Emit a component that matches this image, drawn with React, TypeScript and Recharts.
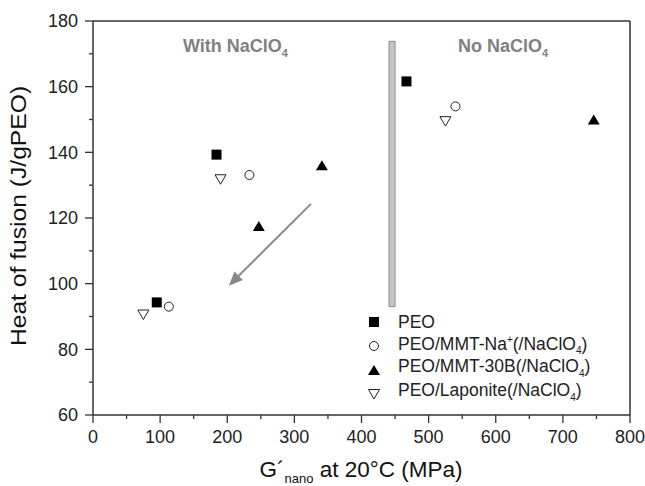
import { ScatterChart, Scatter, XAxis, YAxis, ReferenceLine, ReferenceArea, Legend } from 'recharts';

// values: G'nano (MPa) vs heat of fusion (J/gPEO)
const peo = [
  { x: 95, y: 94.3 },
  { x: 184, y: 139.3 },
  { x: 467, y: 161.6 },
];
const mmtNa = [
  { x: 113, y: 93.0 },
  { x: 233, y: 133.1 },
  { x: 540, y: 154.0 },
];
const mmt30B = [
  { x: 247, y: 117.6 },
  { x: 341, y: 136.1 },
  { x: 746, y: 150.0 },
];
const laponite = [
  { x: 75, y: 90.6 },
  { x: 190, y: 131.8 },
  { x: 525, y: 149.5 },
];

const xTicks = [0, 50, 100, 150, 200, 250, 300, 350, 400, 450, 500, 550, 600, 650, 700, 750, 800];
const yTicks = [60, 70, 80, 90, 100, 110, 120, 130, 140, 150, 160, 170, 180];

// separator bar and trend arrow
const dividerX = [441, 450];
const dividerY = [93, 173.8];
const arrowPoints = [
  { x: 324.7, y: 124.3 },
  { x: 202.3, y: 99.4 },
];

const FONT = '"Liberation Sans", Arial, Helvetica, sans-serif';
const AXIS = '#333';

const Square = ({ cx, cy }: any) => <rect x={cx - 5} y={cy - 5} width={10} height={10} fill="#000" />;
const Circle = ({ cx, cy }: any) => <circle cx={cx} cy={cy} r={4.5} fill="#fff" stroke="#222" strokeWidth={1} />;
const TriUp = ({ cx, cy }: any) => (
  <polygon points={`${cx - 6},${cy + 5} ${cx + 6},${cy + 5} ${cx},${cy - 5}`} fill="#000" />
);
const TriDown = ({ cx, cy }: any) => (
  <polygon points={`${cx - 5.5},${cy - 4.5} ${cx + 5.5},${cy - 4.5} ${cx},${cy + 5}`} fill="#fff" stroke="#222" strokeWidth={1} />
);

const XTick = ({ x, y, payload }: any) => {
  const major = payload.value % 100 === 0;
  return (
    <g>
      <line x1={x} x2={x} y1={y} y2={y + (major ? 8 : 4)} stroke={AXIS} strokeWidth={1.3} />
      {major && (
        <text x={x} y={y + 28} textAnchor="middle" fontSize={18} fill="#222" fontFamily={FONT}>
          {payload.value}
        </text>
      )}
    </g>
  );
};

const YTick = ({ x, y, payload }: any) => {
  const major = payload.value % 20 === 0;
  return (
    <g>
      <line x1={x - (major ? 8 : 4)} x2={x} y1={y} y2={y} stroke={AXIS} strokeWidth={1.3} />
      {major && (
        <text x={x - 15} y={y} dy="0.36em" textAnchor="end" fontSize={18} fill="#222" fontFamily={FONT}>
          {payload.value}
        </text>
      )}
    </g>
  );
};

const Arrow = (props: any) => {
  const { x1, y1, x2, y2 } = props;
  const ang = Math.atan2(y2 - y1, x2 - x1);
  const len = 14;
  const w = 6;
  const bx = x2 - len * Math.cos(ang);
  const by = y2 - len * Math.sin(ang);
  const px = -Math.sin(ang) * w;
  const py = Math.cos(ang) * w;
  return (
    <g>
      <line x1={x1} y1={y1} x2={bx} y2={by} stroke="#888" strokeWidth={2} />
      <polygon points={`${x2},${y2} ${bx + px},${by + py} ${bx - px},${by - py}`} fill="#888" />
    </g>
  );
};

const legendItems = [
  { key: 'peo', icon: Square, label: <>PEO</> },
  { key: 'na', icon: Circle, label: <>PEO/MMT-Na<sup style={{ fontSize: 10 }}>+</sup>(/NaClO<sub style={{ fontSize: 10 }}>4</sub>)</> },
  { key: '30b', icon: TriUp, label: <>PEO/MMT-30B(/NaClO<sub style={{ fontSize: 10 }}>4</sub>)</> },
  { key: 'lap', icon: TriDown, label: <>PEO/Laponite(/NaClO<sub style={{ fontSize: 10 }}>4</sub>)</> },
];

const LegendBox = () => (
  <div style={{ fontFamily: FONT, fontSize: 17.5, color: '#222' }}>
    {legendItems.map(({ key, icon: Icon, label }) => (
      <div key={key} style={{ display: 'flex', alignItems: 'center', height: 24 }}>
        <svg width={14} height={14} style={{ marginRight: 17 }}>
          <Icon cx={7} cy={7} />
        </svg>
        <span style={{ lineHeight: '24px', whiteSpace: 'nowrap' }}>{label}</span>
      </div>
    ))}
  </div>
);

const overlayText = { position: 'absolute' as const, fontFamily: FONT, whiteSpace: 'nowrap' as const };

export default function App() {
  return (
    <div style={{ position: 'absolute', left: 0, top: 0, width: 645, height: 486, background: '#fff' }}>
      <ScatterChart width={645} height={486} margin={{ top: 21, right: 15, bottom: 0, left: 0 }}>
        <XAxis
          type="number"
          dataKey="x"
          domain={[0, 800]}
          ticks={xTicks}
          interval={0}
          tick={<XTick />}
          tickLine={false}
          tickSize={0}
          tickMargin={0}
          height={71}
          axisLine={{ stroke: AXIS, strokeWidth: 1.5 }}
        />
        <YAxis
          type="number"
          dataKey="y"
          domain={[60, 180]}
          ticks={yTicks}
          interval={0}
          tick={<YTick />}
          tickLine={false}
          tickSize={0}
          tickMargin={0}
          width={93}
          axisLine={{ stroke: AXIS, strokeWidth: 1.5 }}
        />
        <ReferenceLine y={180} stroke={AXIS} strokeWidth={1.5} />
        <ReferenceLine x={800} stroke={AXIS} strokeWidth={1.5} />
        <ReferenceArea
          x1={dividerX[0]}
          x2={dividerX[1]}
          y1={dividerY[0]}
          y2={dividerY[1]}
          fill="#c4c4c4"
          fillOpacity={1}
          stroke="#8a8a8a"
          strokeWidth={1}
        />
        <ReferenceLine segment={arrowPoints} shape={<Arrow />} />
        <Scatter name="PEO" data={peo} shape={<Square />} isAnimationActive={false} />
        <Scatter name="PEO/MMT-Na+(/NaClO4)" data={mmtNa} shape={<Circle />} isAnimationActive={false} />
        <Scatter name="PEO/MMT-30B(/NaClO4)" data={mmt30B} shape={<TriUp />} isAnimationActive={false} />
        <Scatter name="PEO/Laponite(/NaClO4)" data={laponite} shape={<TriDown />} isAnimationActive={false} />
        <Legend
          layout="vertical"
          align="center"
          verticalAlign="middle"
          content={() => <LegendBox />}
          wrapperStyle={{ left: 367, top: 310, width: 270, height: 100 }}
        />
      </ScatterChart>

      <div style={{ ...overlayText, left: 183, top: 37, fontSize: 18, fontWeight: 'bold', color: '#808080', lineHeight: '18px' }}>
        With NaClO<sub style={{ fontSize: 11 }}>4</sub>
      </div>
      <div style={{ ...overlayText, left: 458, top: 37, fontSize: 18, fontWeight: 'bold', color: '#808080', lineHeight: '18px' }}>
        No NaClO<sub style={{ fontSize: 11 }}>4</sub>
      </div>
      <div
        style={{
          ...overlayText,
          left: 19 - 160,
          top: 216 - 12,
          width: 320,
          textAlign: 'center',
          fontSize: 22,
          color: '#111',
          lineHeight: '24px',
          transform: 'rotate(-90deg) scaleX(1.12)',
        }}
      >
        Heat of fusion (J/gPEO)
      </div>
      <div style={{ ...overlayText, left: 201, top: 459, width: 320, textAlign: 'center', fontSize: 22.5, color: '#111', lineHeight: '22px' }}>
        G´<sub style={{ fontSize: 13 }}>nano</sub> at 20°C (MPa)
      </div>
    </div>
  );
}
